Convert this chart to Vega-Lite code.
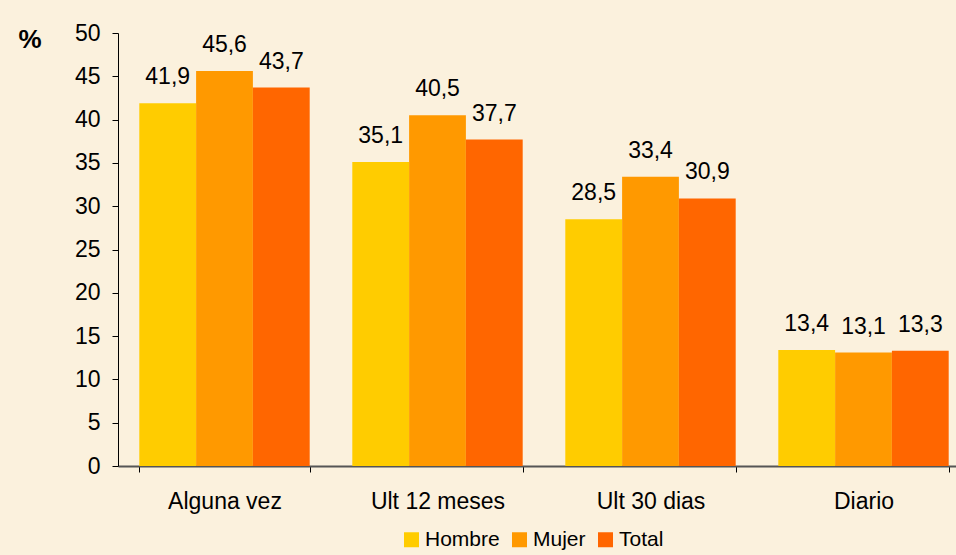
{
  "$schema": "https://vega.github.io/schema/vega-lite/v6.json",
  "width": 852,
  "height": 433,
  "autosize": "none",
  "padding": {"left": 118, "top": 33, "right": 0, "bottom": 89},
  "background": "#FBF1DD",
  "config": {
    "font": "Liberation Sans",
    "view": {"stroke": null},
    "locale": {"number": {"decimal": ",", "thousands": ".", "grouping": [3], "currency": ["", ""]}}
  },
  "data": {
    "values": [
      {"cat": "Alguna vez", "sexo": "Hombre", "v": 41.9},
      {"cat": "Alguna vez", "sexo": "Mujer", "v": 45.6},
      {"cat": "Alguna vez", "sexo": "Total", "v": 43.7},
      {"cat": "Ult 12 meses", "sexo": "Hombre", "v": 35.1},
      {"cat": "Ult 12 meses", "sexo": "Mujer", "v": 40.5},
      {"cat": "Ult 12 meses", "sexo": "Total", "v": 37.7},
      {"cat": "Ult 30 dias", "sexo": "Hombre", "v": 28.5},
      {"cat": "Ult 30 dias", "sexo": "Mujer", "v": 33.4},
      {"cat": "Ult 30 dias", "sexo": "Total", "v": 30.9},
      {"cat": "Diario", "sexo": "Hombre", "v": 13.4},
      {"cat": "Diario", "sexo": "Mujer", "v": 13.1},
      {"cat": "Diario", "sexo": "Total", "v": 13.3}
    ]
  },
  "encoding": {
    "x": {
      "field": "cat", "type": "nominal", "sort": null,
      "scale": {"paddingInner": 0.2, "paddingOuter": 0.1},
      "axis": {
        "title": null, "labelAngle": 0, "labelFontSize": 23, "labelColor": "#000",
        "labelBaseline": "alphabetic", "labelPadding": 36, "tickBand": "extent", "tickSize": 6, "tickColor": "#000",
        "domainColor": "#555", "domainWidth": 2
      }
    },
    "xOffset": {"field": "sexo", "type": "nominal", "sort": ["Hombre", "Mujer", "Total"]},
    "y": {
      "field": "v", "type": "quantitative",
      "scale": {"domain": [0, 50], "nice": false},
      "axis": {
        "title": "%", "titleAngle": 0, "titleAlign": "left", "titleBaseline": "alphabetic",
        "titleX": -100, "titleY": 14, "titleFontSize": 26, "titleFontWeight": "bold", "titleColor": "#000",
        "values": [0, 5, 10, 15, 20, 25, 30, 35, 40, 45, 50],
        "labelFontSize": 23, "labelColor": "#000", "labelPadding": 12,
        "tickSize": 6, "tickColor": "#000", "domainColor": "#000", "grid": false
      }
    }
  },
  "layer": [
    {
      "mark": {"type": "bar"},
      "encoding": {
        "color": {
          "field": "sexo", "type": "nominal",
          "scale": {"domain": ["Hombre", "Mujer", "Total"], "range": ["#FFCC00", "#FF9900", "#FF6600"]},
          "legend": {
            "title": null, "orient": "none", "direction": "horizontal",
            "legendX": 283, "legendY": 496,
            "symbolType": "square", "symbolSize": 225, "symbolStrokeWidth": 0,
            "labelFontSize": 21, "labelColor": "#000", "labelOffset": 3, "columnPadding": 9
          }
        }
      }
    },
    {
      "mark": {"type": "text", "baseline": "alphabetic", "dy": -19, "fontSize": 23, "color": "#000"},
      "encoding": {
        "text": {"field": "v", "type": "quantitative", "format": ".1f"}
      }
    }
  ]
}
